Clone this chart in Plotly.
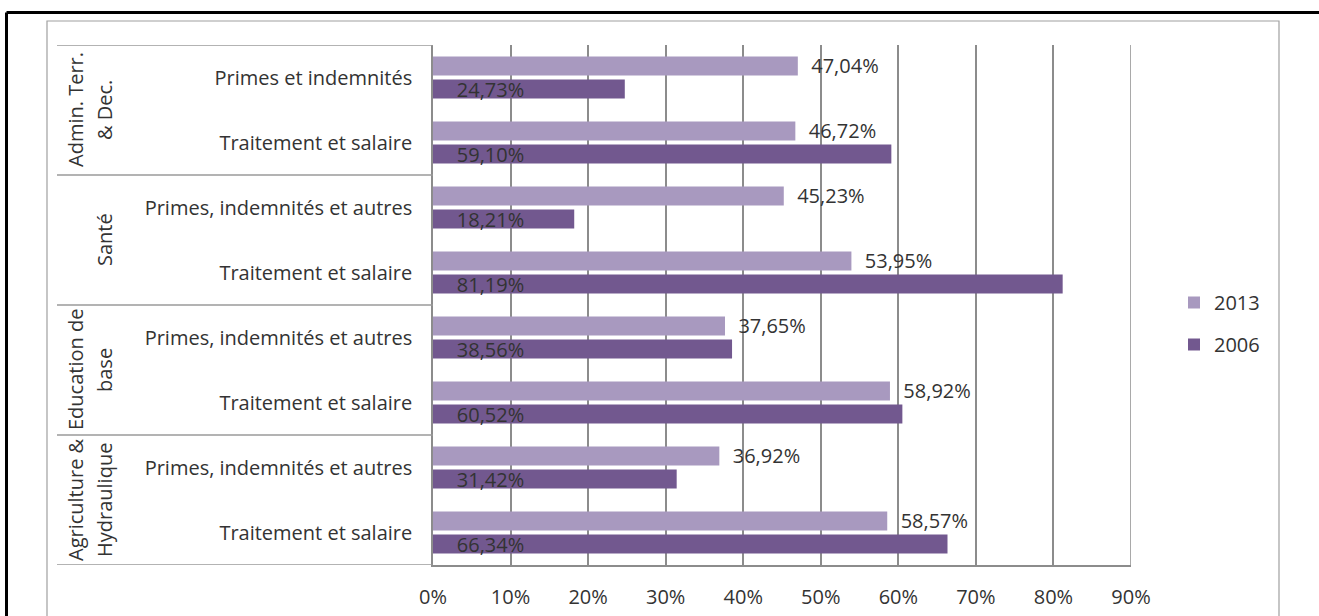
import plotly.graph_objects as go

# Category hierarchy (top to bottom) and the values for each year (%)
groups = [["Admin. Terr.", "& Dec."], ["Santé"], ["Education de", "base"], ["Agriculture &", "Hydraulique"]]
categories = [
    "Primes et indemnités", "Traitement et salaire",
    "Primes, indemnités et autres", "Traitement et salaire",
    "Primes, indemnités et autres", "Traitement et salaire",
    "Primes, indemnités et autres", "Traitement et salaire",
]
values_2013 = [47.04, 46.72, 45.23, 53.95, 37.65, 58.92, 36.92, 58.57]
values_2006 = [24.73, 59.10, 18.21, 81.19, 38.56, 60.52, 31.42, 66.34]
x_ticks = [0, 10, 20, 30, 40, 50, 60, 70, 80, 90]
x_tick_labels = ["0%", "10%", "20%", "30%", "40%", "50%", "60%", "70%", "80%", "90%"]

LIGHT = "#A899BF"
DARK = "#72588F"
TEXT = "#333333"
GRID = "#8C8C8C"
FONT = "Open Sans"

W, H = 1319, 616
L, R, T, B = 433, 1131, 45, 565  # plot area in pixels


def px_x(px):
    return (px - L) / (R - L)


def px_y(py):
    return (B - py) / (B - T)


pos = list(range(len(categories)))
per_group = len(categories) // len(groups)
group_centers = [g * per_group + (per_group - 1) / 2 for g in range(len(groups))]
separators = [g * per_group - 0.5 for g in range(len(groups) + 1)]

nb = "\u00a0"
fig = go.Figure()
fig.add_trace(go.Bar(
    y=pos, x=values_2013, orientation="h", name="2013",
    marker=dict(color=LIGHT, line=dict(width=0)),
    texttemplate=nb * 2 + "%{x:.2f}%", textposition="outside",
    textfont=dict(family=FONT, size=20, color=TEXT),
    constraintext="none", cliponaxis=False, legendgroup="a",
))
fig.add_trace(go.Bar(
    y=pos, x=values_2006, orientation="h", name="2006",
    marker=dict(color=DARK, line=dict(width=0)),
    texttemplate=nb * 4 + "%{x:.2f}%", textposition="inside",
    insidetextanchor="start",
    insidetextfont=dict(family=FONT, size=20, color=TEXT),
    constraintext="none", cliponaxis=False, legendgroup="b",
))

shapes = []
# category box: separators between groups on the left side
for s in separators:
    shapes.append(dict(type="line", xref="paper", yref="y",
                       x0=px_x(57), x1=0, y0=s, y1=s,
                       line=dict(color="#9A9A9A", width=1.5)))
# right edge gridline at 90%
shapes.append(dict(type="line", xref="x", yref="paper", x0=90, x1=90, y0=0, y1=1,
                   line=dict(color=GRID, width=1.5)))
# chart area border
shapes.append(dict(type="rect", xref="paper", yref="paper",
                   x0=px_x(47), x1=px_x(1279), y0=px_y(630), y1=px_y(21),
                   line=dict(color="#A0A0A0", width=1.2)))
# outer frame lines
shapes.append(dict(type="line", xref="paper", yref="paper",
                   x0=px_x(6.5), x1=px_x(1330), y0=px_y(12.5), y1=px_y(12.5),
                   line=dict(color="black", width=3)))
shapes.append(dict(type="line", xref="paper", yref="paper",
                   x0=px_x(6.5), x1=px_x(6.5), y0=px_y(12.5), y1=px_y(630),
                   line=dict(color="black", width=3)))

# rotated group labels, one annotation per text line (last line nearest the boxes)
line_x = [104, 75]
annotations = []
for lines, c in zip(groups, group_centers):
    for k, line in enumerate(reversed(lines)):
        annotations.append(dict(
            text=line, xref="paper", yref="y", x=px_x(line_x[k]), y=c,
            xanchor="center", yanchor="middle", textangle=-90, showarrow=False,
            font=dict(family=FONT, size=20, color=TEXT),
        ))

fig.update_layout(
    width=W, height=H, autosize=False,
    margin=dict(l=L, r=W - R, t=T, b=H - B, pad=0),
    paper_bgcolor="white", plot_bgcolor="white",
    separators=", ",
    barmode="group", bargap=0.292, bargroupgap=0.174,
    font=dict(family=FONT, size=20, color=TEXT),
    showlegend=True,
    legend=dict(x=px_x(1174), y=px_y(283), xanchor="left", yanchor="top",
                font=dict(family=FONT, size=20, color=TEXT),
                traceorder="grouped", tracegroupgap=13,
                bgcolor="rgba(0,0,0,0)"),
    shapes=shapes, annotations=annotations,
    xaxis=dict(range=[0, 90], tickvals=x_ticks, ticktext=x_tick_labels,
               showgrid=True, gridcolor=GRID, gridwidth=1.5,
               zeroline=False, showline=True, linecolor=GRID, linewidth=1.5,
               ticks="", ticklabelstandoff=13, automargin=False,
               tickfont=dict(family=FONT, size=20, color=TEXT)),
    yaxis=dict(range=[len(categories) - 0.5, -0.5], tickvals=pos, ticktext=categories,
               showgrid=False, zeroline=False, showline=True,
               linecolor=GRID, linewidth=1.5, ticks="", ticklabelstandoff=15,
               automargin=False,
               tickfont=dict(family=FONT, size=20, color=TEXT)),
    hovermode=False,
)

fig.write_html("out.html")
